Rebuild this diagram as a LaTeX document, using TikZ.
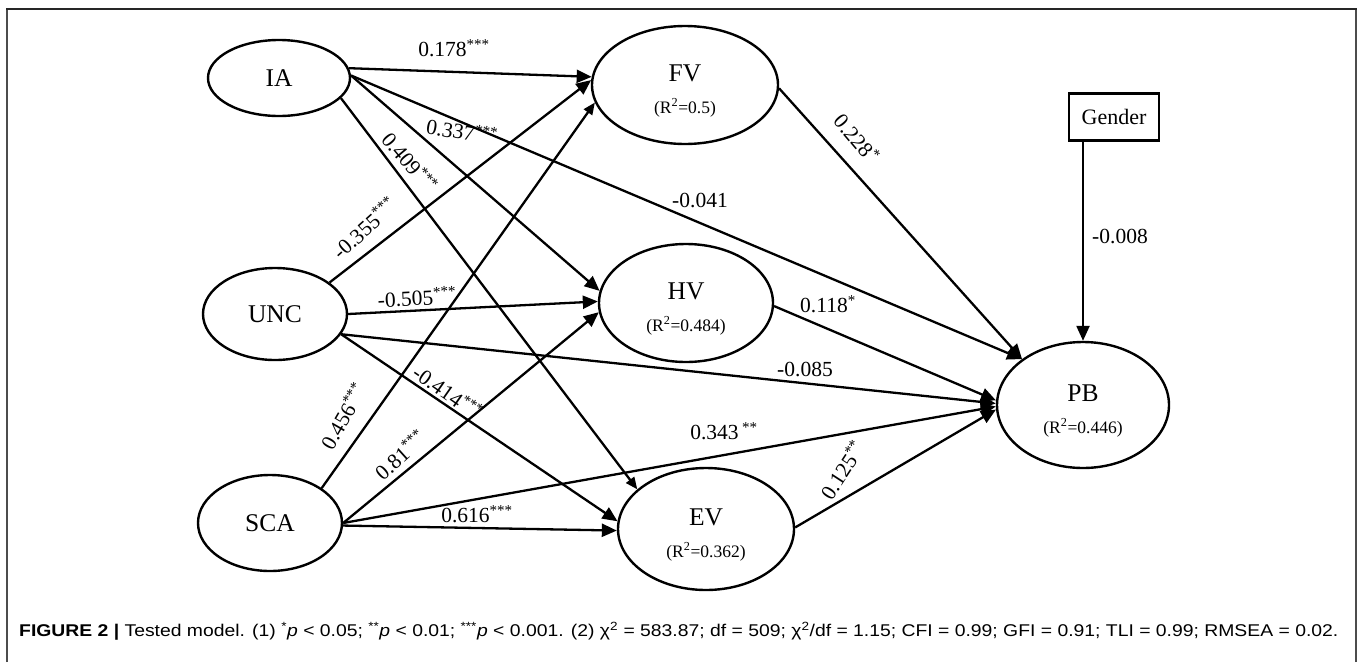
\documentclass[tikz,border=0pt]{standalone}
\usepackage{fontspec}
\setmainfont{Liberation Serif}
\newfontfamily\capfont{Liberation Sans}
\usepackage{graphicx}
\usetikzlibrary{shapes.geometric,arrows.meta,calc}
\newsavebox\capbox
\begin{document}
\begin{tikzpicture}[x=1pt,y=-1pt,
  lv/.style={ellipse, draw, line width=2.4pt, inner sep=0pt, align=center, font=\fontsize{25.5}{28}\selectfont},
  box/.style={rectangle, draw, line width=2.4pt, inner sep=0pt, font=\fontsize{22}{24}\selectfont},
  pathb/.style={line width=2.3pt, -{Triangle[length=15pt,width=13pt]}},
  paths/.style={line width=2.3pt, -{Triangle[length=12pt,width=10pt]}},
  coef/.style={font=\fontsize{21.5}{23}\selectfont, inner sep=0pt},
  capt/.style={anchor=west, inner sep=0pt}
]
\newcommand\rsq[1]{{\fontsize{17.5}{19}\selectfont (R\textsuperscript{2}=#1)}}
\newcommand\hiline{\rule{0pt}{28pt}}
\useasboundingbox (0,0) rectangle (1358,662);
% frame
\draw[line width=2pt, gray!60!black] (7,662) -- (7,9);
\draw[line width=2pt, gray!60!black] (1356,662) -- (1356,9);
\draw[line width=2pt, gray!30!black] (6,9) -- (1357,9);

% nodes
\node[lv, minimum width=142pt, minimum height=76pt] (IA) at (279,78) {IA};
\node[lv, minimum width=144pt, minimum height=92pt] (UNC) at (275,314) {UNC};
\node[lv, minimum width=144pt, minimum height=96pt] (SCA) at (270,523) {SCA};
\node[lv, minimum width=186pt, minimum height=118pt] (FV) at (685,85) {\hiline FV\\[4pt]\rsq{0.5}};
\node[lv, minimum width=174pt, minimum height=118pt] (HV) at (686,303) {\hiline HV\\[4pt]\rsq{0.484}};
\node[lv, minimum width=176pt, minimum height=122pt] (EV) at (706,529) {\hiline EV\\[4pt]\rsq{0.362}};
\node[lv, minimum width=172pt, minimum height=126pt] (PB) at (1083,405) {\hiline PB\\[4pt]\rsq{0.446}};
\node[box, minimum width=90pt, minimum height=47pt] (Gender) at (1114,117) {Gender};

% paths
\draw[pathb] (IA.8) -- (FV.175);
\draw[pathb] (UNC.30) -- (FV.177);
\draw[paths] (SCA.34) -- (FV.191);
\draw[pathb] (IA.2) -- (HV.172);
\draw[pathb] (UNC.0) -- (HV.179);
\draw[pathb] (SCA.0) -- (HV.186);
\draw[paths] (IA.-18) -- (EV.150);
\draw[pathb] (UNC.-17) -- (EV.175);
\draw[pathb] (SCA.-2) -- (EV.181);
\draw[pathb] (IA.2) -- (PB.143);
\draw[pathb] (UNC.-17) -- (PB.179);
\draw[pathb] (SCA.0) -- (PB.181);
\draw[pathb] (FV.-2) -- (PB.143);
\draw[pathb] (HV.-2) -- (PB.177);
\draw[pathb] (EV.1) -- (PB.183);
\draw[pathb] (Gender.south -| PB.north) -- (PB.north);

% coefficients
\node[coef] (l1) at (454,48) {0.178\textsuperscript{***}};
\node[coef, rotate=-10] (l2) at (462,131) {0.337\textsuperscript{***}};
\node[coef, rotate=-50] (l3) at (410,162) {0.409\textsuperscript{***}};
\node[coef, rotate=42] (l4) at (364,228) {-0.355\textsuperscript{***}};
\node[coef, rotate=3] (l5) at (417,297) {-0.505\textsuperscript{***}};
\node[coef, rotate=-35] (l6) at (448,392) {-0.414\textsuperscript{***}};
\node[coef, rotate=60] (l7) at (343,416) {0.456\textsuperscript{***}};
\node[coef, rotate=42] (l8) at (400,455) {0.81\textsuperscript{***}};
\node[coef] (l9) at (477,514) {0.616\textsuperscript{***}};
\node[coef] (l10) at (724,431) {0.343\,\textsuperscript{**}};
\node[coef] (l11) at (805,369) {-0.085};
\node[coef] (l12) at (828,304) {0.118\textsuperscript{*}};
\node[coef, rotate=57] (l13) at (842,470) {0.125\textsuperscript{**}};
\node[coef, rotate=-50] (l14) at (857,138) {0.228\textsuperscript{*}};
\node[coef] (l15) at (700,200) {-0.041};
\node[coef] (l16) at (1120,236) {-0.008};

% caption
\node[capt] (cap) at (19,631) {\sbox\capbox{\capfont\fontsize{17}{20}\selectfont\textbf{FIGURE 2 |} Tested model. (1) \textsuperscript{*}\textit{p} < 0.05; \textsuperscript{**}\textit{p} < 0.01; \textsuperscript{***}\textit{p} < 0.001. (2) χ\textsuperscript{2} = 583.87; df = 509; χ\textsuperscript{2}/df = 1.15; CFI = 0.99; GFI = 0.91; TLI = 0.99; RMSEA = 0.02.}\resizebox{1319pt}{\ht\capbox}{\usebox\capbox}};
\end{tikzpicture}
\end{document}
